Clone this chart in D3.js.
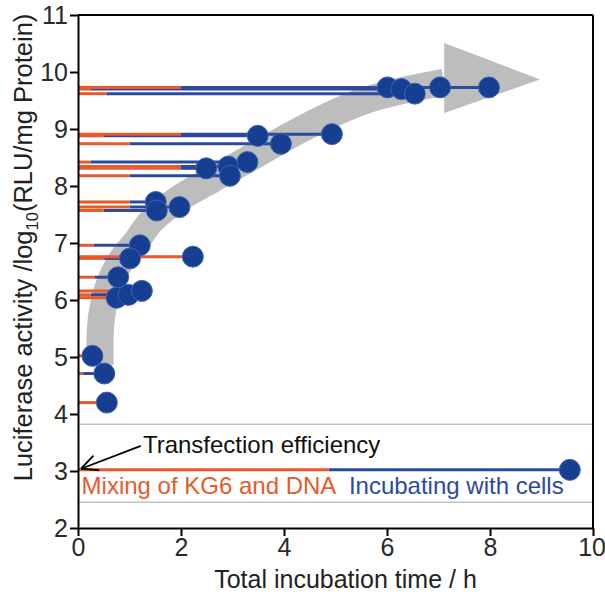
<!DOCTYPE html>
<html>
<head>
<meta charset="utf-8">
<script src="https://cdn.jsdelivr.net/npm/d3@7"></script>
<style>
  body { margin: 0; background: #fff; }
  text { font-family: "Liberation Sans", Arial, sans-serif; }
</style>
</head>
<body>
<div id="chart-area"></div>
<script>
// values
var totalTime = [0.28, 0.51, 0.56, 0.78, 0.75, 0.98, 1.24, 1.20, 1.01, 2.23, 1.51, 1.53, 1.97,
                 2.49, 2.92, 2.95, 3.29, 3.49, 3.94, 4.93, 6.01, 6.28, 6.54, 7.03, 7.98, 9.55];
var mixTime   = [0.10, 0.10, 0.45, 0.33, 0.60, 0.25, 1.00, 0.30, 0.50, 2.20, 1.00, 0.50, 1.00,
                 2.00, 2.00, 1.00, 0.25, 0.50, 1.00, 2.00, 1.00, 0.25, 0.55, 0.50, 2.00, 4.87];
var activity  = [5.02, 4.71, 4.20, 6.40, 6.04, 6.09, 6.16, 6.96, 6.73, 6.76, 7.72, 7.57, 7.63,
                 8.31, 8.34, 8.18, 8.42, 8.88, 8.74, 8.91, 9.73, 9.70, 9.62, 9.73, 9.73, 3.02];

var xTicks = [0, 2, 4, 6, 8, 10];
var yTicks = [2, 3, 4, 5, 6, 7, 8, 9, 10, 11];

// gray trend arrow (time, activity)
var bandTime = [0.43, 0.45, 0.60, 0.82, 1.11, 1.44, 1.98, 2.60, 3.34, 4.50, 5.61, 7.11];
var bandAct  = [4.86, 5.65, 6.26, 6.67, 7.00, 7.40, 7.79, 8.11, 8.49, 9.07, 9.51, 9.82];
var headTime = [7.11, 8.97, 7.11];
var headAct  = [10.51, 9.87, 9.28];

// gray guide lines around the control point
var guideLevels = [3.82, 2.45];

var margin = { left: 78, right: 12, top: 15, bottom: 69 };
var width = 605 - margin.left - margin.right,
    height = 597 - margin.top - margin.bottom;

var orange = "#e65a2b", blue = "#2b4a9e", dot = "#163f92";

var svg = d3.select("#chart-area")
  .append("svg")
    .attr("width", 605)
    .attr("height", 597);

var g = svg.append("g")
  .attr("transform", "translate(" + margin.left + "," + margin.top + ")");

var x = d3.scaleLinear().domain([0, 10]).range([0, width]);
var y = d3.scaleLinear().domain([2, 11]).range([height, 0]);

// guide lines
g.selectAll(".guide")
  .data(guideLevels)
  .enter().append("line")
    .attr("x1", 0).attr("x2", width)
    .attr("y1", function(d) { return y(d); })
    .attr("y2", function(d) { return y(d); })
    .attr("stroke", "#c4c4c4")
    .attr("stroke-width", 1.5);

// trend band + head
var band = bandTime.map(function(t, i) { return [x(t), y(bandAct[i])]; });
g.append("path")
  .attr("d", d3.line().curve(d3.curveCatmullRom)(band))
  .attr("fill", "none")
  .attr("stroke", "#bdbdbd")
  .attr("stroke-width", 27);

var head = headTime.map(function(t, i) { return [x(t), y(headAct[i])]; });
g.append("path")
  .attr("d", "M" + head.join("L") + "Z")
  .attr("fill", "#bdbdbd");

var pts = totalTime.map(function(t, i) {
  return { t: t, m: mixTime[i], v: activity[i] };
});

// incubation segments (blue) then mixing segments (orange)
g.selectAll(".inc")
  .data(pts)
  .enter().append("line")
    .attr("x1", function(d) { return x(d.m); })
    .attr("x2", function(d) { return x(d.t); })
    .attr("y1", function(d) { return y(d.v); })
    .attr("y2", function(d) { return y(d.v); })
    .attr("stroke", blue)
    .attr("stroke-width", 3);

g.selectAll(".mix")
  .data(pts)
  .enter().append("line")
    .attr("x1", x(0))
    .attr("x2", function(d) { return x(d.m); })
    .attr("y1", function(d) { return y(d.v); })
    .attr("y2", function(d) { return y(d.v); })
    .attr("stroke", orange)
    .attr("stroke-width", 3);

g.selectAll("circle")
  .data(pts)
  .enter().append("circle")
    .attr("cx", function(d) { return x(d.t); })
    .attr("cy", function(d) { return y(d.v); })
    .attr("r", 10.5)
    .attr("fill", dot)
    .attr("stroke", "#3d62b0")
    .attr("stroke-width", 1);

// frame top / right
g.append("line").attr("x1", 0).attr("x2", width).attr("y1", 0).attr("y2", 0)
  .attr("stroke", "#000").attr("stroke-width", 2);
g.append("line").attr("x1", width).attr("x2", width).attr("y1", 0).attr("y2", height)
  .attr("stroke", "#000").attr("stroke-width", 2);

// axes
var xAxisGroup = g.append("g")
  .attr("transform", "translate(0," + height + ")")
  .call(d3.axisBottom(x).tickValues(xTicks).tickSize(8).tickPadding(2).tickSizeOuter(0));
var yAxisGroup = g.append("g")
  .call(d3.axisLeft(y).tickValues(yTicks).tickSize(8).tickPadding(2).tickSizeOuter(0));

[xAxisGroup, yAxisGroup].forEach(function(ax) {
  ax.select(".domain").attr("stroke-width", 2);
  ax.selectAll(".tick line").attr("stroke-width", 2);
  ax.selectAll(".tick text")
    .attr("font-size", "25px")
    .attr("fill", "#2a2a2a")
    .style("font-family", "'Liberation Sans', Arial, sans-serif");
});
// keep the last x label inside the page
xAxisGroup.selectAll(".tick text")
  .filter(function(d) { return d === 10; })
  .attr("text-anchor", "end")
  .attr("dx", "0.5em");

// annotation
g.append("text")
  .attr("x", x(1.26))
  .attr("y", y(3.31))
  .attr("font-size", "24px")
  .attr("fill", "#111")
  .text("Transfection efficiency");

var arrowFrom = [x(1.22), y(3.44)], arrowTo = [x(0.06), y(3.04)];
g.append("line")
  .attr("x1", arrowFrom[0]).attr("y1", arrowFrom[1])
  .attr("x2", arrowTo[0]).attr("y2", arrowTo[1])
  .attr("stroke", "#000").attr("stroke-width", 1.8);
var ang = Math.atan2(arrowFrom[1] - arrowTo[1], arrowFrom[0] - arrowTo[0]);
[-0.45, 0.45].forEach(function(da) {
  g.append("line")
    .attr("x1", arrowTo[0]).attr("y1", arrowTo[1])
    .attr("x2", arrowTo[0] + 18 * Math.cos(ang + da))
    .attr("y2", arrowTo[1] + 18 * Math.sin(ang + da))
    .attr("stroke", "#000").attr("stroke-width", 1.8);
});

g.append("text")
  .attr("x", x(0.07))
  .attr("y", y(2.6))
  .attr("font-size", "24px")
  .attr("fill", orange)
  .text("Mixing of KG6 and DNA");

g.append("text")
  .attr("x", x(5.26))
  .attr("y", y(2.6))
  .attr("font-size", "24px")
  .attr("fill", blue)
  .text("Incubating with cells");

// axis titles
g.append("text")
  .attr("x", width / 2 + 10)
  .attr("y", height + 60)
  .attr("font-size", "25px")
  .attr("text-anchor", "middle")
  .attr("fill", "#222")
  .text("Total incubation time / h");

var yl = g.append("text")
  .attr("transform", "translate(-46," + (height / 2 - 24) + ") rotate(-90)")
  .attr("font-size", "25.5px")
  .attr("text-anchor", "middle")
  .attr("fill", "#222");
yl.append("tspan").text("Luciferase activity /log");
yl.append("tspan").attr("font-size", "16.5px").attr("dy", 6).text("10");
yl.append("tspan").attr("dy", -6).text("(RLU/mg Protein)");
</script>
</body>
</html>
